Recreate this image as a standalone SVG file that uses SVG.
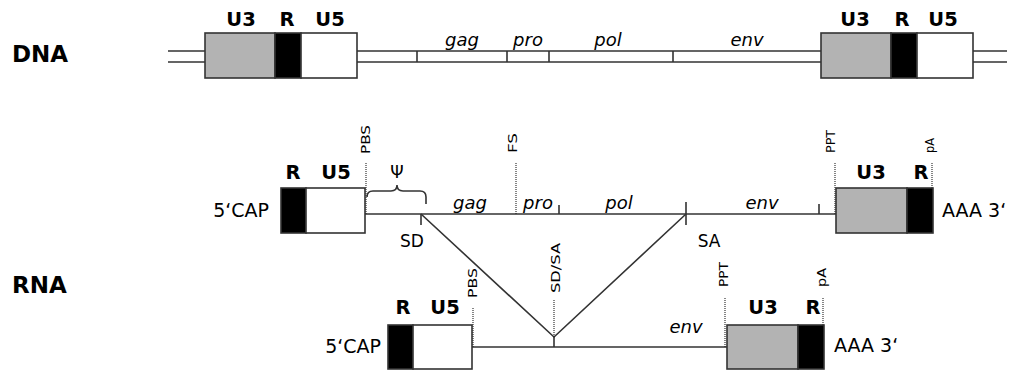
<svg xmlns="http://www.w3.org/2000/svg" width="1011" height="371" viewBox="0 0 1011 371">
<style>
.bg{fill:#fff}
.box{stroke:#333;stroke-width:1.6}
.g{fill:#b3b3b3}
.k{fill:#000}
.w{fill:#fff}
.ln{stroke:#333;stroke-width:1.6;fill:none}
.dot{stroke:#222;stroke-width:1.1;stroke-dasharray:1 1;fill:none}
.big{font-family:"DejaVu Sans",Verdana,sans-serif;font-weight:bold;font-size:23px;fill:#000}
.lab{font-family:"DejaVu Sans",Verdana,sans-serif;font-weight:bold;font-size:19.5px;fill:#000;text-anchor:middle}
.it{font-family:"DejaVu Sans",Verdana,sans-serif;font-style:italic;font-size:18px;fill:#000;text-anchor:middle}
.reg{font-family:"DejaVu Sans",Verdana,sans-serif;font-size:19px;fill:#000}
.sm{font-family:"DejaVu Sans",Verdana,sans-serif;font-size:17px;fill:#000;text-anchor:middle}
.rot{font-family:"DejaVu Sans Condensed","DejaVu Sans",sans-serif;font-size:13px;fill:#000}
</style>
<rect class="bg" x="0" y="0" width="1011" height="371"/>
<g id="titles">
<text class="big" x="12" y="62">DNA</text>
<text class="big" x="12" y="293">RNA</text>
</g>
<g id="connectors">
<path class="ln" d="M168 51H205M168 62H205M357 51H821M357 62H821M973 51H1007M973 62H1007"/>
<path class="ln" d="M417 51V62M507 51V62M549 51V62M673 51V62"/>
<path class="ln" d="M365 214H836"/>
<path class="ln" d="M421 214V225M559 205V214M686 202V225M819 204V214"/>
<path class="ln" d="M421 214L554 337L686 214"/>
<path class="ln" d="M367 197Q367 191 373 191H391Q397 191 397 185Q397 191 403 191H420Q426 191 426 197V204"/>
<path class="ln" d="M472 347H727M554 337V347"/>
<path class="dot" d="M366 163V214M516 163V214M835 163V214M932 163V188"/>
<path class="dot" d="M473 308V347M554 300V337M725 298V347M823 298V325"/>
</g>
<g id="dna-ltr-left">
<rect class="box g" x="205" y="33" width="70" height="45"/>
<rect class="box k" x="275" y="33" width="26" height="45"/>
<rect class="box w" x="301" y="33" width="56" height="45"/>
<text class="lab" x="241" y="26">U3</text>
<text class="lab" x="287" y="26">R</text>
<text class="lab" x="330" y="26">U5</text>
</g>
<g id="dna-genes">
<text class="it" x="462" y="46">gag</text>
<text class="it" x="528" y="46">pro</text>
<text class="it" x="608" y="46">pol</text>
<text class="it" x="747" y="46">env</text>
</g>
<g id="dna-ltr-right">
<rect class="box g" x="821" y="33" width="70" height="45"/>
<rect class="box k" x="891" y="33" width="26" height="45"/>
<rect class="box w" x="917" y="33" width="56" height="45"/>
<text class="lab" x="855" y="26">U3</text>
<text class="lab" x="902" y="26">R</text>
<text class="lab" x="943" y="26">U5</text>
</g>
<g id="rna-genomic-5">
<rect class="box k" x="281" y="188" width="25" height="45"/>
<rect class="box w" x="306" y="188" width="59" height="45"/>
<text class="lab" x="293" y="179">R</text>
<text class="lab" x="336" y="179">U5</text>
<text class="reg" x="269" y="217" text-anchor="end">5‘CAP</text>
<text class="rot" transform="translate(370 154) rotate(-90)" textLength="29" lengthAdjust="spacingAndGlyphs">PBS</text>
<text class="sm" x="397" y="178" font-size="15">Ψ</text>
</g>
<g id="rna-genomic-genes">
<text class="it" x="470" y="209">gag</text>
<text class="it" x="538" y="209">pro</text>
<text class="it" x="619" y="209">pol</text>
<text class="it" x="762" y="209">env</text>
<text class="rot" transform="translate(517 153) rotate(-90)" textLength="20" lengthAdjust="spacingAndGlyphs">FS</text>
<text class="sm" x="412" y="247">SD</text>
<text class="sm" x="709" y="247">SA</text>
</g>
<g id="rna-genomic-3">
<rect class="box g" x="836" y="188" width="71" height="45"/>
<rect class="box k" x="907" y="188" width="26" height="45"/>
<text class="lab" x="871" y="179">U3</text>
<text class="lab" x="921" y="179">R</text>
<text class="reg" x="942" y="217">AAA 3‘</text>
<text class="rot" transform="translate(835 153) rotate(-90)" textLength="23" lengthAdjust="spacingAndGlyphs">PPT</text>
<text class="rot" transform="translate(934 153) rotate(-90)" textLength="15" lengthAdjust="spacingAndGlyphs">pA</text>
</g>
<g id="rna-spliced-5">
<rect class="box k" x="388" y="325" width="25" height="44"/>
<rect class="box w" x="413" y="325" width="59" height="44"/>
<text class="lab" x="403" y="314">R</text>
<text class="lab" x="445" y="314">U5</text>
<text class="reg" x="381" y="353" text-anchor="end">5‘CAP</text>
<text class="rot" transform="translate(477 298) rotate(-90)" textLength="30" lengthAdjust="spacingAndGlyphs">PBS</text>
<text class="rot" transform="translate(560 293) rotate(-90)" textLength="50" lengthAdjust="spacingAndGlyphs">SD/SA</text>
<text class="it" x="686" y="333">env</text>
</g>
<g id="rna-spliced-3">
<rect class="box g" x="727" y="325" width="71" height="44"/>
<rect class="box k" x="798" y="325" width="26" height="44"/>
<text class="lab" x="763" y="314">U3</text>
<text class="lab" x="813" y="314">R</text>
<text class="reg" x="834" y="352">AAA 3‘</text>
<text class="rot" transform="translate(728 287) rotate(-90)" textLength="25" lengthAdjust="spacingAndGlyphs">PPT</text>
<text class="rot" transform="translate(826 287) rotate(-90)" textLength="19" lengthAdjust="spacingAndGlyphs">pA</text>
</g>
</svg>
